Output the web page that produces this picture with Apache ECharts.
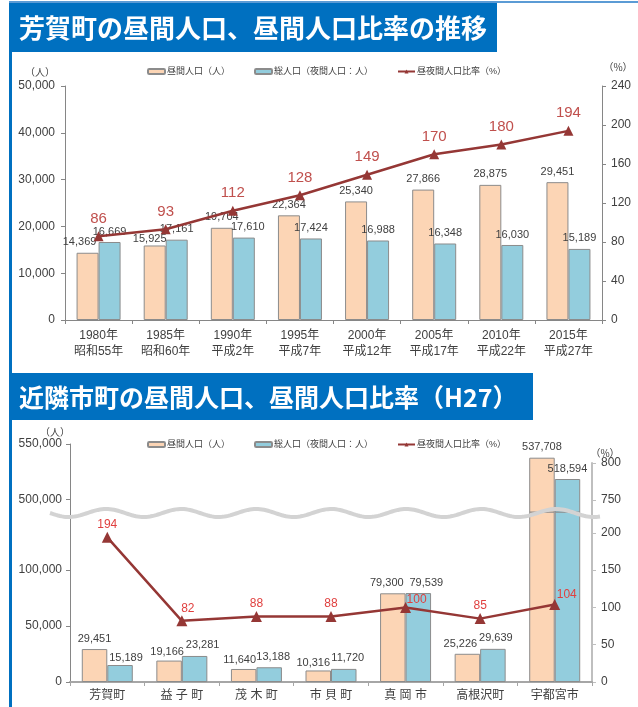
<!DOCTYPE html>
<html>
<head>
<meta charset="utf-8">
<title>芳賀町の昼間人口</title>
<script src="https://cdn.jsdelivr.net/npm/echarts@6.0.0/dist/echarts.min.js"></script>
<style>
  html, body { margin: 0; padding: 0; background: #fff; }
  #main { width: 638px; height: 707px; }
</style>
</head>
<body>
<div id="main"></div>
<script>
// 芳賀町の推移
var years = ['1980年', '1985年', '1990年', '1995年', '2000年', '2005年', '2010年', '2015年'];
var eras = ['昭和55年', '昭和60年', '平成2年', '平成7年', '平成12年', '平成17年', '平成22年', '平成27年'];
var dayPop = [14369, 15925, 19704, 22364, 25340, 27866, 28875, 29451];
var nightPop = [16669, 17161, 17610, 17424, 16988, 16348, 16030, 15189];
var ratio = [86, 93, 112, 128, 149, 170, 180, 194];

// 近隣市町（H27）
var towns = ['芳賀町', '益 子 町', '茂 木 町', '市 貝 町', '真 岡 市', '高根沢町', '宇都宮市'];
var townDay = [29451, 19166, 11640, 10316, 79300, 25226, 537708];
var townNight = [15189, 23281, 13188, 11720, 79539, 29639, 518594];
var townRatio = [194, 82, 88, 88, 100, 85, 104];

// 目盛（省略軸）
var lowTicks = [0, 50000, 100000];
var highTicks = [500000, 550000];
var lowPctTicks = [0, 50, 100, 150, 200];
var highPctTicks = [750, 800];

var NAME_DAY = '昼間人口（人）';
var NAME_NIGHT = '総人口（夜間人口：人）';
var NAME_RATIO = '昼夜間人口比率（%）';

var ORANGE = '#fcd5b5', BLUE = '#93cddd', RED = '#953735', BORDER = '#8c8c8c', TXT = '#404040';
var FONT = "'Liberation Sans', 'Noto Sans CJK JP', sans-serif";

// ラベルの微調整（元図で手動移動されているもの）
var shift = {
  day1: {0: [-8, 0], 1: [-5, 4]},
  night1: {2: [4, 0]},
  day2: {1: [-2, 2], 2: [-4, 1], 3: [-5, 3], 4: [-6, 0], 5: [-7, 1]},
  night2: {0: [6, 3], 1: [8, 0], 2: [4, 0], 3: [4, 0], 4: [8, 0], 5: [3, 0]},
  ratio2: {1: [6, 0], 4: [11, 5], 6: [12, 3]}
};

function withShift(values, s) {
  return values.map(function (v, i) {
    return s[i] ? {value: v, label: {offset: s[i]}} : v;
  });
}
function fmt(v) { return Number(v).toLocaleString('en-US'); }

var LOW_MAX = 152000;

var chart = echarts.init(document.getElementById('main'));

var axisLineGray = {show: true, lineStyle: {color: '#868686', width: 1}};
var tick = {show: true, length: 4, lineStyle: {color: '#868686'}};

// 波線（省略記号）
var wave = [];
for (var x = 50; x <= 600; x += 2) {
  wave.push([x, 513 + 4 * Math.sin((x - 50) / 75 * 2 * Math.PI)]);
}

var legendBase = {
  left: 142, itemWidth: 17, itemHeight: 5, itemGap: 24, selectedMode: false,
  textStyle: {fontSize: 9, color: TXT, padding: [0, 0, 0, -3]},
  data: [NAME_DAY, NAME_NIGHT, NAME_RATIO]
};

chart.setOption({
  animation: false,
  textStyle: {fontFamily: FONT},
  grid: [
    {left: 65, right: 36, top: 86, height: 234, outerBoundsMode: 'none'},
    {left: 70, right: 46, top: 512, height: 170, outerBoundsMode: 'none'},
    {left: 70, right: 46, top: 444, height: 68, outerBoundsMode: 'none'},
    {left: 70, right: 46, top: 463, height: 49, outerBoundsMode: 'none'}
  ],
  legend: [
    Object.assign({top: 62}, legendBase),
    Object.assign({top: 435}, legendBase)
  ],
  xAxis: [
    {
      gridIndex: 0, type: 'category',
      data: years.map(function (y, i) { return y + '\n' + eras[i]; }),
      axisLine: axisLineGray, axisTick: tick,
      axisLabel: {interval: 0, fontSize: 12, lineHeight: 16, color: TXT, margin: 8}
    },
    {
      gridIndex: 1, type: 'category', data: towns,
      axisLine: {show: true, lineStyle: {color: '#a6a6a6', width: 2}},
      axisTick: {show: true, length: 4, lineStyle: {color: '#a6a6a6'}},
      axisLabel: {interval: 0, fontSize: 12, color: TXT, margin: 8}
    },
    {gridIndex: 2, type: 'category', data: towns, show: false},
    {gridIndex: 3, type: 'category', data: towns, show: false}
  ],
  yAxis: [
    {
      gridIndex: 0, type: 'value', min: 0, max: 50000, interval: 10000,
      axisLine: axisLineGray, axisTick: tick, splitLine: {show: false},
      axisLabel: {fontSize: 12, color: TXT, margin: 10, formatter: fmt}
    },
    {
      gridIndex: 0, type: 'value', position: 'right', min: 0, max: 240, interval: 40,
      axisLine: axisLineGray, axisTick: tick, splitLine: {show: false},
      axisLabel: {fontSize: 12, color: TXT, margin: 9}
    },
    {
      gridIndex: 1, type: 'value', min: 0, max: LOW_MAX,
      axisLine: axisLineGray,
      axisTick: {show: true, length: 4, lineStyle: {color: '#868686'}, customValues: lowTicks},
      splitLine: {show: false},
      axisLabel: {fontSize: 12, color: TXT, margin: 8, formatter: fmt, customValues: lowTicks}
    },
    {
      gridIndex: 1, type: 'value', position: 'right', min: 0, max: 228,
      axisLine: {show: true, lineStyle: {color: '#bfbfbf', width: 2}},
      axisTick: {show: true, length: 4, lineStyle: {color: '#bfbfbf'}, customValues: lowPctTicks},
      splitLine: {show: false},
      axisLabel: {fontSize: 12, color: TXT, margin: 9, customValues: lowPctTicks}
    },
    {
      gridIndex: 2, type: 'value', min: 489000, max: 550000,
      axisLine: axisLineGray,
      axisTick: {show: true, length: 4, lineStyle: {color: '#868686'}, customValues: highTicks},
      splitLine: {show: false},
      axisLabel: {fontSize: 12, color: TXT, margin: 8, formatter: fmt, customValues: highTicks}
    },
    {
      gridIndex: 3, type: 'value', position: 'right', min: 734, max: 800,
      axisLine: {show: true, lineStyle: {color: '#bfbfbf', width: 2}},
      axisTick: {show: true, length: 4, lineStyle: {color: '#bfbfbf'}, customValues: highPctTicks},
      splitLine: {show: false},
      axisLabel: {fontSize: 12, color: TXT, margin: 9, customValues: highPctTicks}
    }
  ],
  series: [
    // 上段
    {
      name: NAME_DAY, type: 'bar', xAxisIndex: 0, yAxisIndex: 0, barWidth: 22, barGap: '0%',
      itemStyle: {color: ORANGE, borderColor: BORDER, borderWidth: 1},
      label: {show: true, position: 'top', fontSize: 11, color: TXT, formatter: function (p) { return fmt(p.value); }},
      data: withShift(dayPop, shift.day1)
    },
    {
      name: NAME_NIGHT, type: 'bar', xAxisIndex: 0, yAxisIndex: 0, barWidth: 22, barGap: '0%',
      itemStyle: {color: BLUE, borderColor: BORDER, borderWidth: 1},
      label: {show: true, position: 'top', fontSize: 11, color: TXT, formatter: function (p) { return fmt(p.value); }},
      data: withShift(nightPop, shift.night1)
    },
    {
      name: NAME_RATIO, type: 'line', xAxisIndex: 0, yAxisIndex: 1, z: 5,
      symbol: 'triangle', symbolSize: 10,
      lineStyle: {color: RED, width: 2.5}, itemStyle: {color: RED},
      label: {show: true, position: 'top', fontSize: 15, color: '#c0504d'},
      data: ratio
    },
    // 下段（下側）
    {
      name: NAME_DAY, type: 'bar', xAxisIndex: 1, yAxisIndex: 2, barWidth: 25.5, barGap: '0%',
      itemStyle: {color: ORANGE, borderColor: BORDER, borderWidth: 1},
      label: {show: true, position: 'top', fontSize: 11, color: TXT,
        formatter: function (p) { return p.value > LOW_MAX ? '' : fmt(p.value); }},
      data: withShift(townDay, shift.day2)
    },
    {
      name: NAME_NIGHT, type: 'bar', xAxisIndex: 1, yAxisIndex: 2, barWidth: 25.5, barGap: '0%',
      itemStyle: {color: BLUE, borderColor: BORDER, borderWidth: 1},
      label: {show: true, position: 'top', fontSize: 11, color: TXT,
        formatter: function (p) { return p.value > LOW_MAX ? '' : fmt(p.value); }},
      data: withShift(townNight, shift.night2)
    },
    // 下段（上側）
    {
      name: NAME_DAY, type: 'bar', xAxisIndex: 2, yAxisIndex: 4, barWidth: 25.5, barGap: '0%',
      itemStyle: {color: ORANGE, borderColor: BORDER, borderWidth: 1},
      label: {show: true, position: 'top', fontSize: 11, color: TXT, formatter: function (p) { return fmt(p.value); }},
      data: townDay.map(function (v) { return v > LOW_MAX ? v : '-'; })
    },
    {
      name: NAME_NIGHT, type: 'bar', xAxisIndex: 2, yAxisIndex: 4, barWidth: 25.5, barGap: '0%',
      itemStyle: {color: BLUE, borderColor: BORDER, borderWidth: 1},
      label: {show: true, position: 'top', fontSize: 11, color: TXT, formatter: function (p) { return fmt(p.value); }},
      data: townNight.map(function (v) { return v > LOW_MAX ? v : '-'; })
    },
    {
      name: NAME_RATIO, type: 'line', xAxisIndex: 1, yAxisIndex: 3, z: 5,
      symbol: 'triangle', symbolSize: 11,
      lineStyle: {color: RED, width: 2.5}, itemStyle: {color: RED},
      label: {show: true, position: 'top', distance: 1, fontSize: 12, color: '#e0403f'},
      data: withShift(townRatio, shift.ratio2)
    }
  ],
  graphic: [
    {type: 'rect', shape: {x: 9, y: 1, width: 629, height: 2}, style: {fill: '#5b9bd5'}},
    {type: 'rect', shape: {x: 9, y: 3, width: 3, height: 704}, style: {fill: '#0070c0'}},
    {type: 'rect', shape: {x: 9, y: 3, width: 488, height: 49}, style: {fill: '#0070c0'}},
    {type: 'text', x: 19, y: 28, style: {text: '芳賀町の昼間人口、昼間人口比率の推移', fill: '#fff',
      font: "bold 26px 'Noto Sans CJK JP'", textVerticalAlign: 'middle'}},
    {type: 'rect', shape: {x: 9, y: 373, width: 524, height: 47}, style: {fill: '#0070c0'}},
    {type: 'text', x: 19, y: 397, style: {text: '近隣市町の昼間人口、昼間人口比率（H27）', fill: '#fff',
      font: "bold 25px 'Noto Sans CJK JP'", textVerticalAlign: 'middle'}},
    {type: 'text', x: 40, y: 72, style: {text: '（人）', fill: TXT, font: "10px 'Noto Sans CJK JP'",
      textAlign: 'center', textVerticalAlign: 'middle'}},
    {type: 'text', x: 618, y: 67, style: {text: '（%）', fill: TXT, font: "10px 'Noto Sans CJK JP'",
      textAlign: 'center', textVerticalAlign: 'middle'}},
    {type: 'text', x: 55, y: 432, style: {text: '（人）', fill: TXT, font: "10px 'Noto Sans CJK JP'",
      textAlign: 'center', textVerticalAlign: 'middle'}},
    {type: 'text', x: 605, y: 453, style: {text: '（%）', fill: TXT, font: "10px 'Noto Sans CJK JP'",
      textAlign: 'center', textVerticalAlign: 'middle'}},
    {type: 'polyline', z: 100, shape: {points: wave}, style: {stroke: '#d3d3d3', lineWidth: 4, fill: null}}
  ]
});
</script>
</body>
</html>
